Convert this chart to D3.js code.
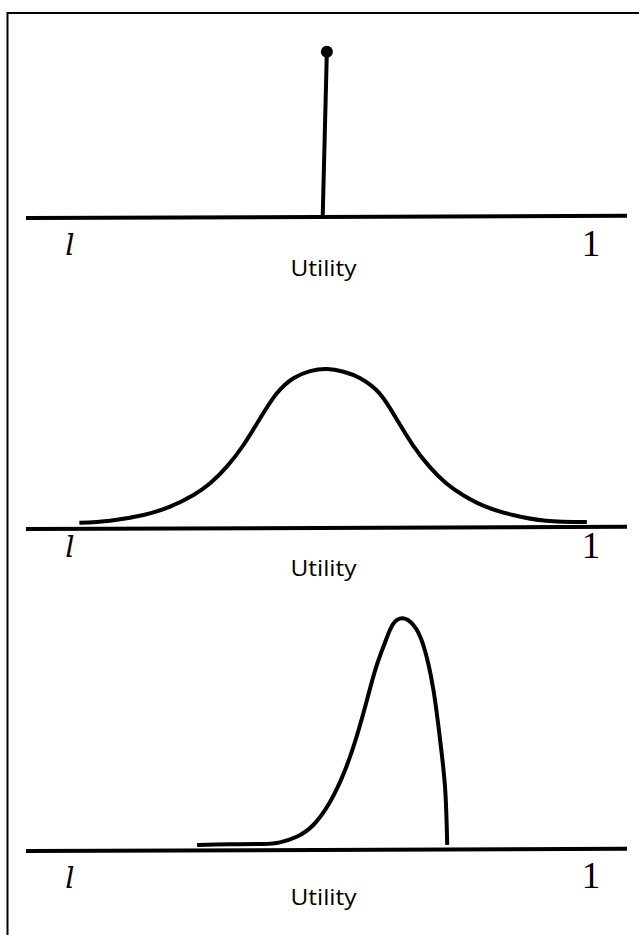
<!DOCTYPE html>
<html>
<head>
<meta charset="utf-8">
<script src="https://cdn.jsdelivr.net/npm/d3@7"></script>
<style>
  body { margin: 0; background: #fff; }
  svg { display: block; }
</style>
</head>
<body>
<div id="chart"></div>
<script>
// ---------------- data (utility u: 0 = l, 1 = 1 ; v: relative density) ----
const axisEnds = ['l', '1'];
const axisTitle = 'Utility';

// panel 1: point mass (stem base / top)
const stemU = [0.485, 0.493];
const stemV = [0, 1];

// panel 2: symmetric bell
const bellU = [0.018, 0.077, 0.141, 0.192, 0.237, 0.269, 0.301, 0.333, 0.365, 0.397,
               0.429, 0.461, 0.493, 0.525, 0.557, 0.594, 0.626, 0.658, 0.690, 0.722,
               0.754, 0.798, 0.850, 0.914, 0.992];
const bellV = [0.033, 0.046, 0.082, 0.134, 0.208, 0.281, 0.386, 0.522, 0.690, 0.847,
               0.942, 0.987, 1.000, 0.983, 0.942, 0.847, 0.690, 0.522, 0.386, 0.281,
               0.208, 0.134, 0.082, 0.046, 0.038];

// panel 3: left-skewed, truncated on the right
const skewU = [0.244, 0.307, 0.371, 0.403, 0.435, 0.467, 0.499, 0.528, 0.551, 0.570,
               0.587, 0.605, 0.620, 0.639, 0.659, 0.678, 0.697, 0.710, 0.720, 0.724];
const skewV = [0.022, 0.025, 0.026, 0.033, 0.057, 0.108, 0.207, 0.345, 0.496, 0.647,
               0.785, 0.898, 0.975, 1.000, 0.971, 0.885, 0.698, 0.482, 0.266, 0.022];

// ---------------- layout -----------------------------------------------------
const width = 639, height = 935;
const ink = '#000';
const lineW = 4;
const axisX0 = 26, axisX1 = 627;

const panels = [
  { axisY: 217, topY: 51.7, lBase: 255, oneBase: 256, titleBase: 276 },
  { axisY: 528, topY: 369,  lBase: 557, oneBase: 558, titleBase: 576 },
  { axisY: 850, topY: 618.3, lBase: 888, oneBase: 888, titleBase: 905 }
];

const xScale = d3.scaleLinear().domain([0, 1]).range([70, 591]);

const svg = d3.select('#chart').append('svg')
  .attr('width', width)
  .attr('height', height);

svg.append('rect')
  .attr('x', 7.5).attr('y', 13)
  .attr('width', 800).attr('height', 1000)
  .attr('fill', 'none')
  .attr('stroke', ink)
  .attr('stroke-width', 2);

const zip = (us, vs) => us.map((u, i) => ({ u: u, v: vs[i] }));
const series = [zip(stemU, stemV), zip(bellU, bellV), zip(skewU, skewV)];

panels.forEach(function(p, i){
  const g = svg.append('g');
  const yScale = d3.scaleLinear().domain([0, 1]).range([p.axisY, p.topY]);

  // baseline
  g.append('line')
    .attr('x1', axisX0).attr('y1', p.axisY + 1)
    .attr('x2', axisX1).attr('y2', p.axisY - 1.2)
    .attr('stroke', ink)
    .attr('stroke-width', lineW);

  if (i === 0) {
    const pts = series[0];
    g.append('line')
      .attr('x1', xScale(pts[0].u)).attr('y1', yScale(pts[0].v))
      .attr('x2', xScale(pts[1].u)).attr('y2', yScale(pts[1].v))
      .attr('stroke', ink)
      .attr('stroke-width', lineW);
    g.append('circle')
      .attr('cx', xScale(pts[1].u))
      .attr('cy', yScale(pts[1].v))
      .attr('r', 6)
      .attr('fill', ink);
  } else {
    const line = d3.line()
      .x(d => xScale(d.u))
      .y(d => yScale(d.v))
      .curve(d3.curveNatural);
    g.append('path')
      .datum(series[i])
      .attr('d', line)
      .attr('fill', 'none')
      .attr('stroke', ink)
      .attr('stroke-width', lineW)
      .attr('stroke-linejoin', 'round');
  }

  // end labels
  g.append('text')
    .attr('x', xScale(0)).attr('y', p.lBase)
    .attr('text-anchor', 'middle')
    .style('font-family', '"DejaVu Serif", serif')
    .style('font-style', 'italic')
    .style('font-size', '29px')
    .text(axisEnds[0]);
  g.append('text')
    .attr('x', xScale(1)).attr('y', p.oneBase)
    .attr('text-anchor', 'middle')
    .style('font-family', '"Liberation Serif", serif')
    .style('font-size', '37px')
    .text(axisEnds[1]);

  g.append('text')
    .attr('x', 323.5).attr('y', p.titleBase)
    .attr('text-anchor', 'middle')
    .attr('textLength', 66)
    .attr('lengthAdjust', 'spacingAndGlyphs')
    .style('font-family', '"Open Sans", sans-serif')
    .style('font-size', '21px')
    .text(axisTitle);
});
</script>
</body>
</html>
